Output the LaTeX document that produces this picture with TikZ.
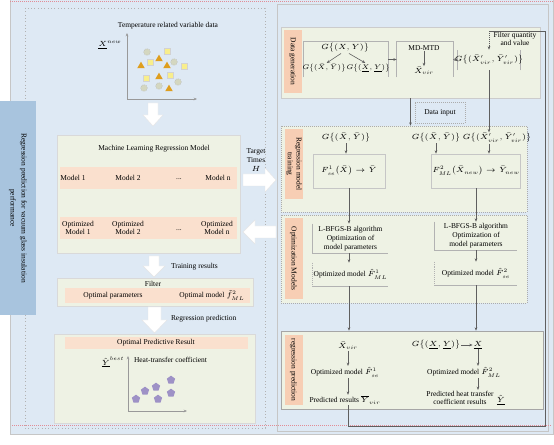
\documentclass[tikz,border=0pt]{standalone}
\usepackage{fix-cm}
\usepackage{amsmath}
\usepackage{fontspec}
\setmainfont{Liberation Serif}
\usetikzlibrary{arrows.meta,shapes.geometric}
\DeclareMathSizes{5.6}{5.6}{4}{3.2}
\DeclareMathSizes{5}{5}{3.6}{3}

\definecolor{bgblue}{RGB}{222,233,244}
\definecolor{boxgreen}{RGB}{238,242,228}
\definecolor{bandpeach}{RGB}{250,224,206}
\definecolor{labelpeach}{RGB}{247,206,180}
\definecolor{bannerblue}{RGB}{168,196,222}
\definecolor{dotpink}{RGB}{226,140,150}
\definecolor{linegray}{RGB}{95,95,95}
\definecolor{circfill}{RGB}{212,215,192}
\definecolor{sqfill}{RGB}{248,238,140}
\definecolor{trifill}{RGB}{222,158,30}
\definecolor{pentfill}{RGB}{158,146,198}

\tikzset{every picture/.style={line width=0.5pt}}
\tikzset{
  every node/.style={font=\fontsize{5.6}{6.6}\selectfont, inner sep=0.5pt},
  smallmath/.style={font=\fontsize{5}{6}\selectfont},
  arr/.style={draw=linegray, line width=0.45pt, -{Stealth[length=2.5pt,width=2pt]}},
  sideline/.style={draw=gray!60, line width=0.45pt},
  hollow/.style={draw=none, inner sep=0pt, align=center},
  greenbox/.style={fill=boxgreen, draw=gray!30, inner sep=0pt},
  dotbox/.style={fill=boxgreen, draw=gray!65, densely dotted, inner sep=0pt},
  band/.style={fill=bandpeach, draw=none, inner sep=0pt},
  sidelab/.style={fill=labelpeach, rotate=-90, align=center, minimum height=13.5pt, inner sep=0pt},
  banner/.style={fill=bannerblue, rotate=-90, align=center, inner sep=0pt,
    font=\fontsize{5.6}{8.3}\selectfont},
  blockarrow/.style={fill=white, draw=gray!20, line width=0.3pt},
  axisline/.style={draw=gray!80, line width=0.45pt, -{Stealth[length=2.5pt,width=2pt]}},
  circmark/.style={circle, fill=circfill, draw=gray!55, densely dotted, minimum size=5pt, inner sep=0pt},
  sqmark/.style={rectangle, fill=sqfill, draw=gray!35, minimum size=4.5pt, inner sep=0pt},
  trimark/.style={regular polygon, regular polygon sides=3, fill=trifill, minimum size=6.5pt, inner sep=0pt},
  pentmark/.style={regular polygon, regular polygon sides=5, fill=pentfill, minimum size=6.5pt, inner sep=0pt},
}

\begin{document}
\begin{tikzpicture}[x=0.75pt,y=0.75pt,yscale=-1,xscale=1]
\useasboundingbox (0,0) rectangle (554,445);
\fill[white] (0,0) rectangle (554,445);

%Shape: Rectangle [outer frame]
\draw[fill=bgblue, draw=gray!45] (10,-2) rectangle (553,434);
%Shape: Rectangle [left panel]
\draw[gray!60, dotted] (25,8) rectangle (265,428);
%Shape: Rectangle [right panel]
\draw[gray!45] (277,4) rectangle (548,431);
%Straight Lines [pink rules]
\draw[dotpink, densely dotted] (10,1.5) -- (553,1.5);
\draw[dotpink, densely dotted] (12,425.5) -- (551,425.5);

%Shape: Banner
\node[banner, minimum width=160.5pt, minimum height=27pt] (banner) at (18,208) {Regression prediction for vacuum glass insulation\\performance};

% ---------------- left panel ----------------
% Text Node
\node (tempdata) at (168,26) {Temperature related variable data};
% Text Node
\node (xnew) at (110,45) {$\underline{X}^{new}$};
%Shape: Axis 2D
\coordinate (orgA) at (127,99);
\draw[axisline] (orgA) -- (127,33);
\draw[axisline] (orgA) -- (197,99);
%Shape: scatter
\foreach \px/\py in {147/52,174/62,178/82,159/86,144/88}
  \node[circmark] at (\px,\py) {};
\foreach \px/\py in {167/51,150/62,184/66,146/78,170/75}
  \node[sqmark] at (\px,\py) {};
\foreach \px/\py in {159/59,141/66,167/66,159/77,169/89}
  \node[trimark] at (\px,\py) {};

%Down Arrow
\draw[blockarrow] (148,103) -- (158,103) -- (158,115) -- (163,115) -- (153,126) -- (143,115) -- (148,115) -- cycle;

%Shape: Rectangle [ML models]
\node[greenbox, minimum width=137.25pt, minimum height=88.5pt] (mlbox) at (148.5,194) {};
\node (mltitle) at (154,149) {Machine Learning Regression Model};
\node[band, minimum width=132.75pt, minimum height=16.5pt] (modelrow) at (148.5,178) {};
\node (mod1) at (73,178) {Model 1};
\node (mod2) at (128,178) {Model 2};
\node (moddots) at (179,179) {...};
\node (modn) at (218,178) {Model n};
\node[band, minimum width=132.75pt, minimum height=16.5pt] (optrow) at (148.5,228) {};
\node[align=center] (omod1) at (78,228) {Optimized\\Model 1};
\node[align=center] (omod2) at (128,228) {Optimized\\Model 2};
\node (omoddots) at (179,230) {...};
\node[align=center] (omodn) at (217,228) {Optimized\\Model n};

%Right Arrow
\draw[blockarrow] (243,174) -- (265,174) -- (265,168) -- (276,180) -- (265,192) -- (265,186) -- (243,186) -- cycle;
%Left Arrow
\draw[blockarrow] (276,226) -- (255,226) -- (255,220) -- (243,232) -- (255,244) -- (255,238) -- (276,238) -- cycle;
% Text Node
\node[align=center] (target) at (256,160) {Target\\Times\\$H$};

%Down Arrow
\draw[blockarrow] (149,256) -- (159,256) -- (159,266) -- (165,266) -- (154,277) -- (143,266) -- (149,266) -- cycle;
\node[anchor=west] (trainres) at (170,267) {Training results};

%Shape: Rectangle [filter]
\node[greenbox, minimum width=147pt, minimum height=21pt] (filterbox) at (155,292) {};
\node[band, minimum width=138.75pt, minimum height=11.25pt] (filterrow) at (157.5,296) {};
\node (filter) at (153,284) {Filter};
\node (optpar) at (113,296) {Optimal parameters};
\node (optmod) at (212,295) {Optimal model $\tilde{f}^{2}_{ML}$};

%Down Arrow
\draw[blockarrow] (148,307) -- (161,307) -- (161,320) -- (167,320) -- (154.5,333) -- (142,320) -- (148,320) -- cycle;
\node[anchor=west] (regpred) at (170,319) {Regression prediction};

%Shape: Rectangle [result]
\node[greenbox, minimum width=150.75pt, minimum height=66.75pt] (resultbox) at (154.5,378.5) {};
\node[band, minimum width=137.25pt, minimum height=9pt] (resultrow) at (156.5,343) {};
\node (resulttitle) at (156,343) {Optimal Predictive Result};
\node (ybest) at (113,362) {$\underline{\hat{Y}}^{best}$};
\coordinate (orgB) at (128,411);
\draw[axisline] (orgB) -- (128,356);
\draw[axisline] (orgB) -- (187,411);
\node[anchor=west] (heat) at (133,360) {Heat-transfer coefficient};
\foreach \px/\py in {136/399,145/391,156/387,158/399,171/380,171/393}
  \node[pentmark] at (\px,\py) {};

% ---------------- right panel ----------------
%Shape: Rectangle [data generation]
\node[greenbox, draw=gray!40, minimum width=194.25pt, minimum height=53.25pt] (datagen) at (410.5,62.5) {};
\node[sidelab, minimum width=47.25pt] (datalab) at (292.5,61.5) {Data generation};

\node[hollow, minimum width=63pt, minimum height=26.25pt] (genbox) at (346,59.5) {};
\draw[sideline] (genbox.south west) -- (genbox.north west) -- (genbox.north east) -- (genbox.south east);
\node (gxy) at (345,48) {$G\bigl\{(X,Y)\bigr\}$};
\node[smallmath] (gbar) at (324,68) {$G\bigl\{(\bar{X},\bar{Y})\bigr\}$};
\node[smallmath] (gund) at (368,68) {$G\bigl\{(\underline{X},\underline{Y})\bigr\}$};
\draw[arr] ([xshift=-3pt]gxy.south) -- ([xshift=2pt]gbar.north);
\draw[arr] ([xshift=3pt]gxy.south) -- ([xshift=-2pt]gund.north);

\node[hollow, minimum width=42pt, minimum height=26.25pt] (mdbox) at (425,59.5) {};
\draw[sideline] (mdbox.south west) -- (mdbox.north west) -- (mdbox.north east) -- (mdbox.south east);
\node (mdmtd) at (424,48) {MD-MTD};
\node (xvir) at (424,71) {$\bar{X}_{vir}$};
\draw[arr] (mdmtd.south) -- (xvir.north);

\node[hollow, minimum width=46.5pt, minimum height=15pt] (gvbox) at (489,60) {};
\draw[sideline] (gvbox.south west) -- (gvbox.north west);
\draw[sideline] (gvbox.south east) -- (gvbox.north east);
\node (gvir) at (489,60) {$G\bigl\{(\bar{X}'_{vir},\bar{Y}'_{vir})\bigr\}$};

\draw[arr] (genbox.east) -- (mdbox.west);
\draw[arr] (mdbox.east) -- (gvbox.west);

\node[align=center] (filtq) at (515,39) {Filter quantity\\and value};

% Data input
\node[draw=gray!65, densely dotted, minimum width=37.5pt, minimum height=15.75pt] (datain) at (440,112.5) {Data input};

%Shape: Rectangle [regression model training]
\node[dotbox, minimum width=184.5pt, minimum height=64.5pt] (trainbox) at (404,169) {};
\node[sidelab, minimum width=52.5pt] (trainlab) at (294,164) {Regression model\\training};
\draw[arr] (datagen.south) -- (datagen.south |- trainbox.north);

\node (gbarA) at (346,138) {$G\bigl\{(\bar{X},\bar{Y})\bigr\}$};
\node (gbarB) at (436,138) {$G\bigl\{(\bar{X},\bar{Y})\bigr\}$};
\node (gvirB) at (497,138) {$G\bigl\{(\bar{X}'_{vir},\bar{Y}'_{vir})\bigr\}$};
\draw[arr] (gvbox.south) -- (gvbox.south |- gvirB.north);

\node[draw=gray!45, fill=boxgreen, minimum width=54pt, minimum height=25.5pt] (fonebox) at (349,171) {$F^{1}_{se}\bigl(\bar{X}\bigr)\rightarrow\bar{Y}$};
\node[draw=gray!45, fill=boxgreen, minimum width=61.5pt, minimum height=25.5pt] (ftwobox) at (476,171) {$F^{2}_{ML}\bigl(\bar{X}_{new}\bigr)\rightarrow\bar{Y}_{new}$};
\draw[arr] (gbarA.south) -- (gbarA.south |- fonebox.north);
\draw[arr] (gbarB.south) -- (gbarB.south |- ftwobox.north);
\draw[arr] (gvbox.south |- gvirB.south) -- (gvbox.south |- ftwobox.north);

%Shape: Rectangle [optimization models]
\node[dotbox, minimum width=184.5pt, minimum height=66pt] (optbox) at (404,259) {};
\node[sidelab, minimum width=60.75pt] (optlab) at (293.5,258.5) {Optimization Models};

\node[hollow, minimum width=56.25pt, minimum height=21.75pt] (lbfgsA) at (350.5,238.5) {L-BFGS-B algorithm\\Optimization of\\model parameters};
\draw[sideline] (lbfgsA.north west) |- (lbfgsA.south east);
\node[hollow, minimum width=61.5pt, minimum height=21pt] (lbfgsB) at (476,236) {L-BFGS-B algorithm\\Optimization of\\model parameters};
\draw[sideline] (lbfgsB.north west) |- (lbfgsB.south east);
\draw[arr] (fonebox.south) -- (fonebox.south |- lbfgsA.north);
\draw[arr] (ftwobox.south) -- (ftwobox.south |- lbfgsB.north);

\node[hollow, minimum width=56.25pt, minimum height=17.25pt] (optA) at (350.5,274.5) {Optimized model $\hat{F}^{1}_{ML}$};
\draw[sideline, densely dotted] (optA.north west) -- (optA.south west);
\draw[sideline] (optA.south west) -- (optA.south east);
\node[hollow, minimum width=61.5pt, minimum height=17.25pt] (optB) at (476,273.5) {Optimized model $\hat{F}^{2}_{se}$};
\draw[sideline, densely dotted] (optB.north west) -- (optB.south west);
\draw[sideline] (optB.south west) -- (optB.south east);
\draw[arr] (fonebox.south |- lbfgsA.south) -- (fonebox.south |- optA.north);
\draw[arr] (ftwobox.south |- lbfgsB.south) -- (ftwobox.south |- optB.north);

%Shape: Rectangle [regression prediction]
\node[greenbox, draw=gray!70, minimum width=196.5pt, minimum height=58.5pt] (predbox) at (412,370) {};
\node[sidelab, minimum width=52.5pt] (predlab) at (293.5,370) {regression prediction};
\draw[arr] (fonebox.south |- optA.south) -- (fonebox.south |- predbox.north);
\draw[arr] (ftwobox.south |- optB.south) -- (ftwobox.south |- predbox.north);

\node (xvirB) at (348,346) {$\bar{X}_{vir}$};
\node (optmA) at (345,372) {Optimized model $\hat{F}^{1}_{se}$};
\node (predA) at (345,400) {Predicted results $\overline{Y}_{vir}$};
\draw[arr] (xvirB.south) -- (xvirB.south |- optmA.north);
\draw[arr] (xvirB.south |- optmA.south) -- (xvirB.south |- predA.north);

\node (gundB) at (436,345) {$G\bigl\{(\underline{X},\underline{Y})\bigr\}$};
\node (xund) at (478,345) {$\underline{X}$};
\draw[arr] (gundB.east) -- (xund.west);
\node (optmB) at (464,372) {Optimized model $\hat{F}^{2}_{ML}$};
\node[align=center] (predB) at (460,398) {Predicted heat transfer\\coefficient results};
\node (yhat) at (501,400) {$\underline{\hat{Y}}$};
\draw[arr] (xund.south) -- (xund.south |- optmB.north);
\draw[arr] (xund.south |- optmB.south) -- (xund.south |- predB.north);

%Straight Lines [feedback loop]
\coordinate (loopA) at (348,426);
\coordinate (loopB) at (545,426);
\coordinate (loopC) at (545,31);
\coordinate (loopD) at (489,31);
\draw[draw=linegray, line width=0.45pt] (xvirB.south |- predA.south) -- (loopA) -- (loopB) -- (loopC) -- (loopD);
\draw[arr, densely dotted] (loopD) -- (gvbox.north);

\end{tikzpicture}
\end{document}
